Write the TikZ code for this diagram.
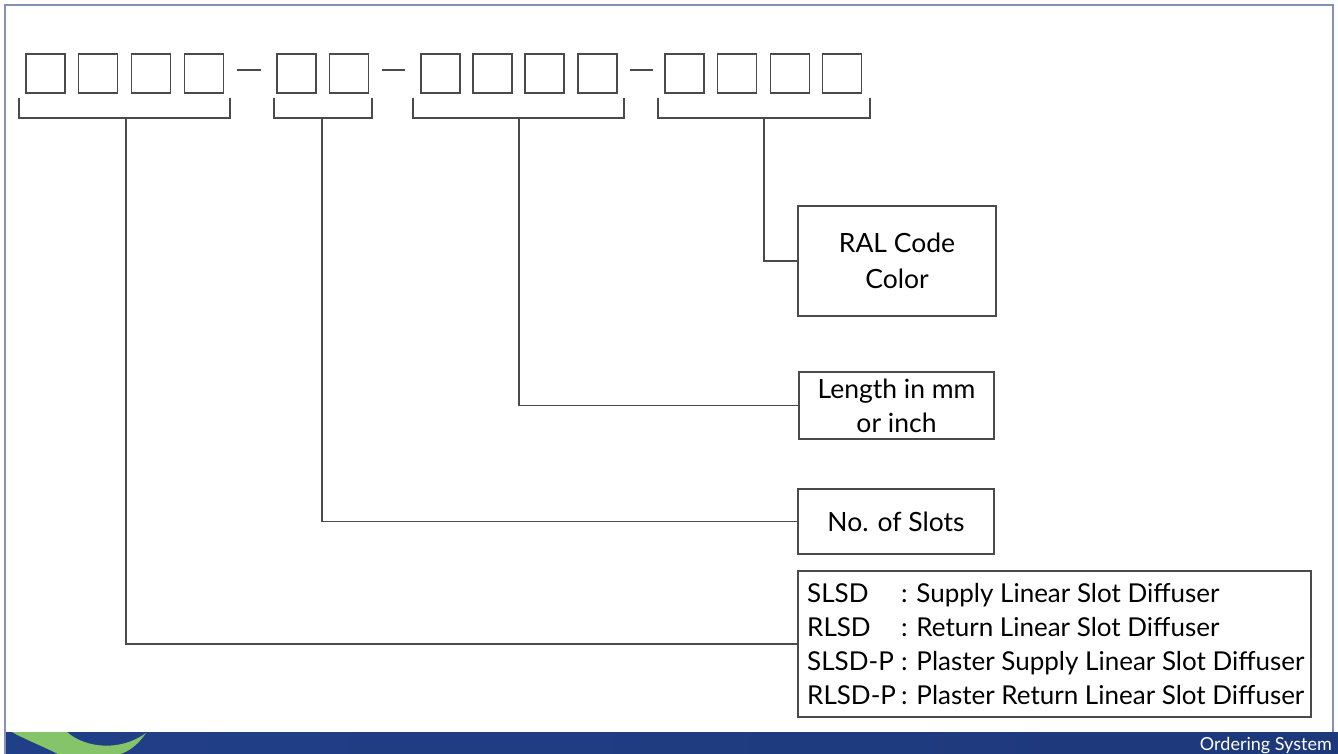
\documentclass[tikz,border=0pt]{standalone}
\usepackage{fontspec}
\setmainfont{Lato}
\usetikzlibrary{positioning}
\definecolor{frame}{HTML}{8490B4}
\definecolor{ink}{HTML}{4A4A4A}
\definecolor{band}{HTML}{213F88}
\definecolor{swoosh}{HTML}{86C46A}
\tikzset{
  sq/.style={draw=ink, line width=1.8pt, minimum width=39pt, minimum height=39pt, inner sep=0pt},
  wire/.style={draw=ink, line width=1.8pt},
  lbox/.style={draw=ink, line width=1.8pt, inner sep=0pt, align=center, font=\fontsize{26.5}{36}\selectfont, text=black},
}
\begin{document}
\begin{tikzpicture}[x=1pt,y=-1pt]
\useasboundingbox (0,0) rectangle (1338,754);
\fill[white] (0,0) rectangle (1338,754);
% frame
\draw[frame, line width=2.5pt] (5,754) -- (5,5) -- (1333,5) -- (1333,754);
% bottom band
\shade[left color=band, right color=band!90!black] (6,732) rectangle (1338,754);
\fill[swoosh] (12,732) -- (67,732) .. controls (85,748) and (120,752) .. (146,733)
  .. controls (138,745) and (128,752) .. (120,754) -- (58,754) .. controls (40,745) and (22,738) .. (12,732) -- cycle;
\node[anchor=base east, text=white, font=\fontsize{18}{18}\selectfont, inner sep=0pt] (os) at (1332,750) {Ordering System};
% squares
\foreach \n/\x in {a1/45.5,a2/98,a3/151,a4/204,b1/296.5,b2/349,c1/440.5,c2/492.5,c3/544.5,c4/597.5,d1/684.5,d2/737,d3/790,d4/842}
  \node[sq] (\n) at (\x,73.5) {};
% dashes
\draw[wire] (237,70) -- (261,70);
\draw[wire] (382,70) -- (405,70);
\draw[wire] (630,70) -- (653,70);
% brackets
\draw[wire] (19,98) -- (19,118) -- (230,118) -- (230,98);
\draw[wire] (274,98) -- (274,118) -- (372,118) -- (372,98);
\draw[wire] (413,98) -- (413,118) -- (624,118) -- (624,98);
\draw[wire] (658,98) -- (658,118) -- (870,118) -- (870,98);
\coordinate (s1) at (126,118);
\coordinate (s2) at (322,118);
\coordinate (s3) at (519,118);
\coordinate (s4) at (764,118);
% boxes
\node[lbox, minimum width=198pt, minimum height=110pt] (ral) at (897,261) {RAL Code\\Color};
\node[lbox, minimum width=195pt, minimum height=67pt] (len) at (896.5,405.5) {Length in mm\\[-2pt]or inch};
\node[lbox, minimum width=196pt, minimum height=65pt] (slots) at (896,521.5) {No. of Slots};
\node[draw=ink, line width=1.8pt, minimum width=513pt, minimum height=146pt, inner sep=0pt] (big) at (1054.5,644) {};
\node[anchor=north west, inner sep=0pt, font=\fontsize{26}{34}\selectfont] (bigtext) at (807,578) {%
  \begin{tabular}{@{}l@{\hspace{5pt}}l@{}}
  SLSD & : Supply Linear Slot Diffuser\\
  RLSD & : Return Linear Slot Diffuser\\
  SLSD-P & : Plaster Supply Linear Slot Diffuser\\
  RLSD-P & : Plaster Return Linear Slot Diffuser
  \end{tabular}};
% connectors
\draw[wire] (s4) |- (ral.west);
\draw[wire] (s3) |- (len.west);
\draw[wire] (s2) |- (slots.west);
\draw[wire] (s1) |- (big.west);
\end{tikzpicture}
\end{document}
